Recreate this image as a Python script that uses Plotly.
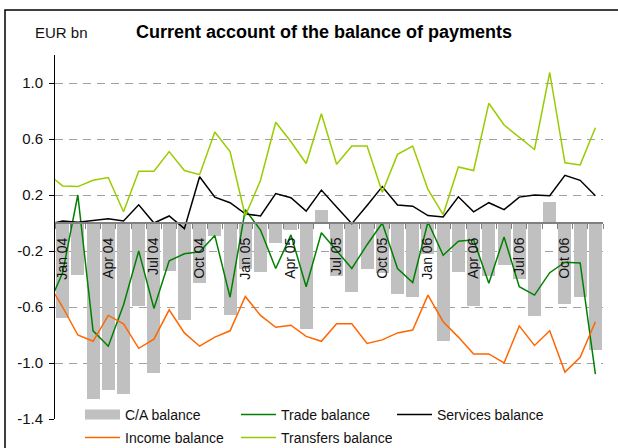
import plotly.graph_objects as go

# Months: Dec 03 (only partly visible at the left edge) through Dec 06
months = ["Dec 03",
          "Jan 04", "Feb 04", "Mar 04", "Apr 04", "May 04", "Jun 04", "Jul 04", "Aug 04", "Sep 04", "Oct 04", "Nov 04", "Dec 04",
          "Jan 05", "Feb 05", "Mar 05", "Apr 05", "May 05", "Jun 05", "Jul 05", "Aug 05", "Sep 05", "Oct 05", "Nov 05", "Dec 05",
          "Jan 06", "Feb 06", "Mar 06", "Apr 06", "May 06", "Jun 06", "Jul 06", "Aug 06", "Sep 06", "Oct 06", "Nov 06", "Dec 06"]
month_index = list(range(-1, 36))

ca_balance = [None,
              -0.68, -0.37, -1.30, -1.19, -1.22, -0.59, -1.07, -0.34, -0.69, -0.43, -0.09, -0.66,
              -0.33, -0.35, -0.145, -0.05, -0.76, 0.09, -0.38, -0.495, -0.33, -0.355, -0.505, -0.53,
              -0.22, -0.84, -0.35, -0.59, -0.38, -0.30, -0.40, -0.665, 0.15, -0.58, -0.53, -0.91]
trade_balance = [-0.605,
                 -0.355, 0.2, -0.77, -0.88, -0.585, -0.2, -0.61, -0.27, -0.22, -0.205, -0.09, -0.53,
                 0.095, -0.05, -0.325, -0.085, -0.455, -0.07, -0.2, -0.325, -0.155, 0.0, -0.325, -0.425,
                 0.007, -0.23, -0.13, -0.12, -0.43, -0.1, -0.455, -0.515, -0.355, -0.28, -0.285, -1.08]
services_balance = [-0.01,
                    0.015, 0.005, 0.02, 0.03, 0.015, 0.13, 0.0, 0.05, -0.04, 0.33, 0.185, 0.145,
                    0.065, 0.05, 0.21, 0.18, 0.085, 0.235, 0.115, -0.005, 0.125, 0.26, 0.128, 0.12,
                    0.053, 0.043, 0.187, 0.08, 0.145, 0.095, 0.185, 0.2, 0.195, 0.34, 0.305, 0.195]
income_balance = [-0.42,
                  -0.60, -0.80, -0.845, -0.66, -0.72, -0.895, -0.83, -0.62, -0.785, -0.88, -0.815, -0.77,
                  -0.525, -0.66, -0.745, -0.73, -0.81, -0.845, -0.72, -0.72, -0.86, -0.835, -0.785, -0.765,
                  -0.515, -0.705, -0.815, -0.935, -0.935, -1.0, -0.735, -0.875, -0.77, -1.065, -0.96, -0.705]
transfers_balance = [0.355,
                     0.265, 0.26, 0.305, 0.325, 0.08, 0.37, 0.37, 0.51, 0.375, 0.345, 0.65, 0.51,
                     0.05, 0.305, 0.72, 0.58, 0.425, 0.78, 0.42, 0.55, 0.55, 0.22, 0.49, 0.55,
                     0.24, 0.06, 0.40, 0.375, 0.855, 0.70, 0.61, 0.525, 1.075, 0.43, 0.415, 0.68]

y_ticks = [-1.4, -1.0, -0.6, -0.2, 0.2, 0.6, 1.0]
y_ticktext = ["-1.4", "-1.0", "-0.6", "-0.2", "0.2", "0.6", "1.0"]
label_months = ["Jan 04", "Apr 04", "Jul 04", "Oct 04", "Jan 05", "Apr 05", "Jul 05", "Oct 05",
                "Jan 06", "Apr 06", "Jul 06", "Oct 06"]

FONT = "Liberation Sans, Arial, sans-serif"
Y_MIN, Y_MAX = -1.4, 1.2
X_MIN, X_MAX = -0.5, 35.5
PLOT_TOP, PLOT_BOTTOM, PLOT_LEFT, PLOT_RIGHT = 55, 419, 55, 603
PH = PLOT_BOTTOM - PLOT_TOP
PW = PLOT_RIGHT - PLOT_LEFT

label_vals = [month_index[months.index(m)] for m in label_months]
boundaries = [i - 0.5 for i in range(0, 37)]

fig = go.Figure()

fig.add_trace(go.Bar(x=month_index, y=ca_balance, marker=dict(color="#C0C0C0", line=dict(width=0)),
                     width=0.85, showlegend=False, name="C/A balance"))
# legend entry for C/A balance (wide grey block)
fig.add_trace(go.Scatter(x=[None], y=[None], mode="lines", name="C/A balance",
                         line=dict(color="#C0C0C0", width=12), legend="legend"))
fig.add_trace(go.Scatter(x=month_index, y=trade_balance, mode="lines", name="Trade balance",
                         line=dict(color="#008000", width=1.5), legend="legend"))
fig.add_trace(go.Scatter(x=month_index, y=services_balance, mode="lines", name="Services balance",
                         line=dict(color="#000000", width=1.5), legend="legend"))
fig.add_trace(go.Scatter(x=month_index, y=income_balance, mode="lines", name="Income balance",
                         line=dict(color="#FF6600", width=1.5), legend="legend2"))
fig.add_trace(go.Scatter(x=month_index, y=transfers_balance, mode="lines", name="Transfers balance",
                         line=dict(color="#99CC00", width=1.5), legend="legend2"))

zero_pos = (0 - Y_MIN) / (Y_MAX - Y_MIN)


def px_x(px):
    return (px - PLOT_LEFT) / PW


def px_y(py):
    return (PLOT_BOTTOM - py) / PH


legend_common = dict(orientation="h", xanchor="left", yanchor="top", bgcolor="white",
                     borderwidth=0, itemwidth=35, entrywidth=106,
                     font=dict(family=FONT, size=14, color="#111111"), traceorder="normal")

fig.update_layout(
    width=618, height=448,
    margin=dict(l=PLOT_LEFT, r=618 - PLOT_RIGHT, t=PLOT_TOP, b=448 - PLOT_BOTTOM, autoexpand=False),
    paper_bgcolor="white", plot_bgcolor="white",
    font=dict(family=FONT, size=14, color="#111111"),
    bargap=0,
    title=dict(text="<b>Current account of the balance of payments</b>",
               font=dict(family=FONT, size=18, color="#000000"),
               x=324 / 618, xref="container", xanchor="center",
               y=1 - 32 / 448, yref="container", yanchor="middle"),
    xaxis=dict(range=[X_MIN, X_MAX], anchor="free", position=zero_pos, side="bottom",
               showline=True, linecolor="#808080", linewidth=2,
               tickmode="array", tickvals=label_vals, ticktext=label_months,
               tickangle=-90, ticks="", ticklabelstandoff=8,
               tickfont=dict(family=FONT, size=14, color="#111111"),
               minor=dict(tickmode="array", tickvals=boundaries, ticks="outside",
                          ticklen=5, tickwidth=1, tickcolor="#808080", showgrid=False),
               showgrid=False, zeroline=False),
    yaxis=dict(range=[Y_MIN, Y_MAX], tickmode="array", tickvals=y_ticks, ticktext=y_ticktext,
               showline=True, linecolor="#000000", linewidth=1,
               ticks="outside", ticklen=5, tickcolor="#000000", ticklabelstandoff=3,
               tickfont=dict(family=FONT, size=15, color="#111111"),
               showgrid=True, gridcolor="#A0A0A0", gridwidth=1, griddash="8px,6px",
               zeroline=False),
    legend=dict(x=px_x(80), y=px_y(399), **legend_common),
    legend2=dict(x=px_x(80), y=px_y(422), **legend_common),
    annotations=[dict(text="EUR bn", xref="paper", yref="paper",
                      x=px_x(33), y=px_y(32), xanchor="left", yanchor="middle",
                      showarrow=False, font=dict(family=FONT, size=15, color="#111111"))],
    shapes=[dict(type="rect", xref="paper", yref="paper",
                 x0=px_x(5), x1=px_x(640), y0=px_y(470), y1=px_y(10),
                 line=dict(color="#000000", width=1.5), fillcolor="rgba(0,0,0,0)", layer="above")],
)

fig.write_html("out.html", config={"displayModeBar": False},
               post_script="document.body.style.margin='0px';")
